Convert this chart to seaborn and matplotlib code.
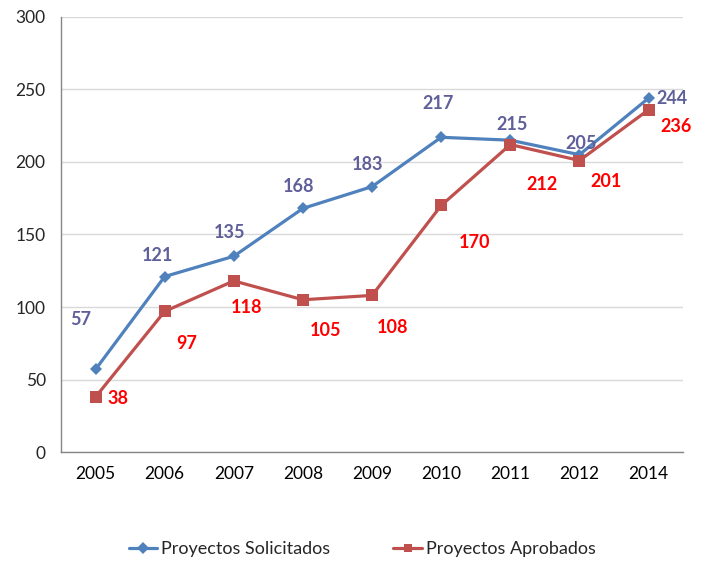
import matplotlib
matplotlib.use('Agg')
import matplotlib.pyplot as plt
import seaborn as sns
import pandas as pd
import numpy as np

years = ['2005', '2006', '2007', '2008', '2009', '2010', '2011', '2012', '2014']
solicitados = [57, 121, 135, 168, 183, 217, 215, 205, 244]
aprobados = [38, 97, 118, 105, 108, 170, 212, 201, 236]

# label offsets in points (dx, dy), hand-placed like the original
off_sol = [(-11, 36), (-5, 15), (-3, 17), (-3, 16), (-3, 16), (-2, 24), (1, 11), (1, 8), (17, 0)]
off_apr = [(16, -1), (16, -23), (9, -19), (16, -22), (15, -23), (24, -27), (23, -29), (19, -15), (20, -12)]

BLUE = '#4F81BD'
RED = '#C0504D'
BLUE_TXT = '#5F5F9A'
RED_TXT = '#FF0000'

sns.set_theme(style='white')
plt.rcParams['font.family'] = ['Lato', 'DejaVu Sans']

df = pd.DataFrame({'Año': years,
                   'Proyectos Solicitados': solicitados,
                   'Proyectos Aprobados': aprobados})
long = df.melt(id_vars='Año', var_name='serie', value_name='valor')

fig = plt.figure(figsize=(7.05, 5.63), dpi=100)
ax = fig.add_axes([0.0865, 0.197, 0.8825, 0.773])

sns.lineplot(data=long, x='Año', y='valor', hue='serie', style='serie',
             palette=[BLUE, RED], markers=['D', 's'], dashes=False,
             markersize=7, linewidth=2.3, markeredgewidth=0, ax=ax, sort=False)
for line in ax.lines[:2]:
    if line.get_marker() == 'D':
        line.set_markersize(6)
    else:
        line.set_markersize(8)

x = np.arange(len(years))
for i, v in enumerate(solicitados):
    ax.annotate(str(v), (x[i], v), xytext=off_sol[i], textcoords='offset points',
                ha='center', va='center', fontsize=13, fontweight='bold', color=BLUE_TXT)
for i, v in enumerate(aprobados):
    ax.annotate(str(v), (x[i], v), xytext=off_apr[i], textcoords='offset points',
                ha='center', va='center', fontsize=13, fontweight='bold', color=RED_TXT)

ax.set_xlim(-0.5, len(years) - 0.5)
ax.set_ylim(0, 300)
ax.set_yticks(range(0, 301, 50))
ax.yaxis.grid(True, color='#D9D9D9', linewidth=1)
ax.set_axisbelow(True)
ax.set_xlabel('')
ax.set_ylabel('')

ax.set_xticks(x)
ax.set_xticks(np.arange(-0.5, len(years), 1), minor=True)
ax.tick_params(axis='x', which='major', length=0, pad=10, labelsize=12.5, colors='black')
ax.tick_params(axis='x', which='minor', length=5, color='#868686', direction='out')
ax.tick_params(axis='y', length=5, color='#868686', direction='out', labelsize=12.5, pad=6)
for s in ['top', 'right']:
    ax.spines[s].set_visible(False)
for s in ['left', 'bottom']:
    ax.spines[s].set_color('#868686')
    ax.spines[s].set_linewidth(1)

handles, labels = ax.get_legend_handles_labels()
for h in handles:
    h.set_markersize(6)
ax.legend(handles, labels, loc='upper center', bbox_to_anchor=(0.484, -0.168), ncol=2,
          frameon=False, fontsize=13, columnspacing=3.5, handlelength=1.6, handletextpad=0.2)

fig.savefig('out.png', dpi=100)
